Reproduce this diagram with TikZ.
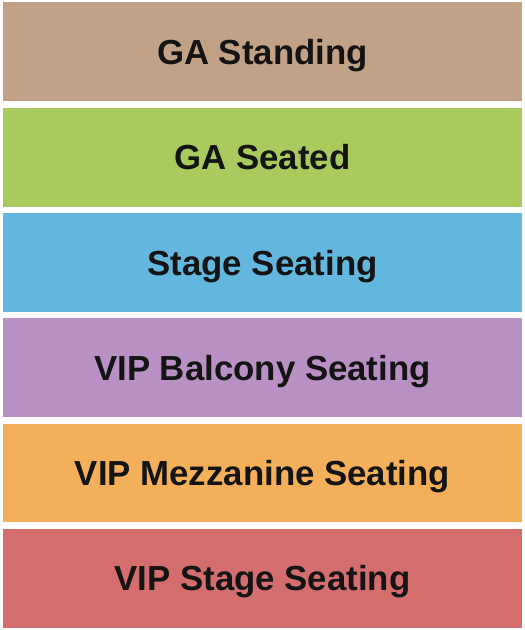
\documentclass[tikz,border=0pt]{standalone}
\usepackage{fontspec}
\setmainfont{Liberation Sans}
\usepackage{tikz}
\definecolor{tanband}{HTML}{C2A286}
\definecolor{greenband}{HTML}{A9CB5E}
\definecolor{blueband}{HTML}{63B7DF}
\definecolor{purpleband}{HTML}{B990C3}
\definecolor{orangeband}{HTML}{F4AF5B}
\definecolor{redband}{HTML}{D46E6E}
\tikzstyle{plan}=[x=1pt, y=-1pt]
\tikzstyle{sec}=[rectangle, inner sep=0pt, minimum width=519pt, minimum height=98.5pt, text height=25pt, text depth=0pt, text=black!92, font=\fontsize{34.8}{40}\selectfont\bfseries]

\begin{document}
\begin{tikzpicture}[plan]
	\useasboundingbox (0,0) rectangle (525,630);
	\draw (262.5,51.5) node[sec, fill=tanband] (gastand) {GA Standing};
	\draw (262.5,157.3) node[sec, fill=greenband] (gaseat) {GA Seated};
	\draw (262.5,262.5) node[sec, fill=blueband] (stage) {Stage Seating};
	\draw (262.5,367.5) node[sec, fill=purpleband] (vipbal) {VIP Balcony Seating};
	\draw (262.5,473) node[sec, fill=orangeband] (vipmez) {VIP Mezzanine Seating};
	\draw (262.5,578.3) node[sec, fill=redband] (vipstage) {VIP Stage Seating};
\end{tikzpicture}
\end{document}
